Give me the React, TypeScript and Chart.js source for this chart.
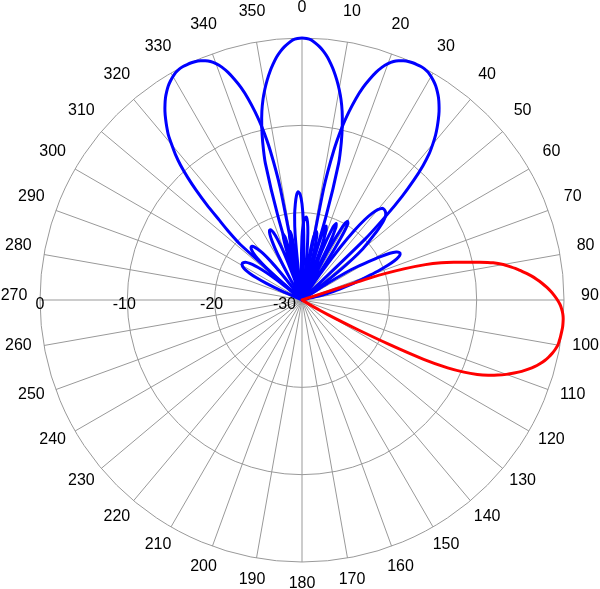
import React, { useEffect, useRef } from "react";
import { Chart, registerables } from "chart.js";

Chart.register(...registerables);

// ---------- DATA ----------
const FLOOR_DB = -30;
const RADIAL_TICKS = [-30, -20, -10, 0];
const ANGLE_TICKS = [0, 10, 20, 30, 40, 50, 60, 70, 80, 90, 100, 110, 120, 130, 140, 150, 160, 170,
  180, 190, 200, 210, 220, 230, 240, 250, 260, 270, 280, 290, 300, 310, 320, 330, 340, 350];
const ANGLES = Array.from({ length: 360 }, (_, i) => String(i)); // 1 degree categories

// Each lobe: [first angle in degrees, dB value for every following degree]
// Red beam (pointing ~95 deg)
const redMain: [number, number[]] = [70, [
  -30, -30, -21.5, -17.8, -15.3, -13.5, -12.1, -10.8, -9.2, -7.7,
  -6.6, -5.8, -5.0, -4.3, -3.6, -3.0, -2.45, -1.95, -1.5, -1.1,
  -0.75, -0.45, -0.25, -0.1, -0.02, 0, 0, -0.05, -0.1, -0.17,
  -0.25, -0.45, -0.7, -1.0, -1.35, -1.8, -2.3, -2.9, -3.55, -4.3,
  -5.1, -6.0, -7.0, -8.2, -9.7, -11.6, -14.5, -18.8, -22.8, -25.6,
  -27.6, -29.2, -30]];

// Blue beam at 0 deg
const blueCSideLeft: [number, number[]] = [-50, [
  -30, -27, -24.5, -23, -22.2, -21.8, -21.6, -21.6, -21.8, -22.3,
  -23, -24.2, -26, -28.5, -30]];
const blueCMain: [number, number[]] = [-17, [
  -30, -20, -13.8, -11.4, -9.5, -7.9, -6.6, -5.5, -4.5, -3.6,
  -2.8, -2.05, -1.45, -0.95, -0.55, -0.2, -0.05, 0, -0.05, -0.2,
  -0.55, -0.95, -1.45, -2.05, -2.8, -3.6, -4.5, -5.5, -6.6, -7.9,
  -9.5, -11.4, -13.8, -20, -30]];
const blueCSideRight: [number, number[]] = [34, [
  -30, -26, -22.5, -20, -18.3, -17.2, -16.5, -16.1, -16, -16.05,
  -16.2, -16.5, -17.1, -18, -19, -20, -21, -22.5, -24.5, -27, -30]];

// Blue beam at ~+27 deg
const blueRSideLeft: [number, number[]] = [-30, [
  -30, -27, -24, -22.5, -21.6, -21.2, -21.2, -21.6, -22.5, -24,
  -27, -30, -26, -23.2, -22.2, -22.6, -25, -30, -25, -22.5,
  -22, -22.8, -25.5, -30]];
const blueRSideInner: [number, number[]] = [-2, [
  -30, -26, -22.8, -21.3, -20.6, -20.5, -21, -22.3, -24.5, -27.5, -30]];
const blueRMain: [number, number[]] = [10, [
  -30, -17, -12.5, -9.8, -7.8, -6.1, -4.7, -3.6, -2.6, -1.8,
  -1.2, -0.75, -0.45, -0.25, -0.1, -0.03, 0, 0, -0.05, -0.2,
  -0.45, -0.75, -1.1, -1.55, -2.05, -2.65, -3.3, -4.05, -4.85, -5.7,
  -6.7, -7.8, -9.3, -11.2, -13.5, -16.5, -20, -30]];
const blueRSideRight: [number, number[]] = [56, [
  -30, -26.5, -24, -22.5, -21.2, -19.8, -18.6, -17.9, -17.6, -17.6,
  -17.9, -18.5, -19.4, -20.5, -21.7, -22.8, -23.8, -24.7, -25.5, -26.3,
  -27.2, -28.3, -30]];

// Blue beam at ~-27 deg
const blueLSideLeft: [number, number[]] = [-67, [
  -30, -27.5, -25.5, -24.2, -23.3, -22.7, -22.3, -22.1, -22, -22,
  -22.1, -22.3, -22.7, -23.3, -24.2, -25.5, -27.5, -30]];
const blueLMain: [number, number[]] = [-49, [
  -30, -20.5, -18.5, -16.8, -14.6, -12.6, -10.8, -9.2, -7.9, -6.8,
  -5.7, -4.85, -4.05, -3.3, -2.65, -2.05, -1.55, -1.1, -0.75, -0.45,
  -0.2, -0.05, 0, 0, -0.03, -0.1, -0.25, -0.45, -0.75, -1.2,
  -1.8, -2.6, -3.6, -4.7, -6.1, -7.8, -9.8, -12.5, -17, -30]];
const blueLSideRight: [number, number[]] = [-8, [
  -30, -27, -22.5, -20.3, -19, -18, -17.6, -17.9, -19, -21,
  -24, -28, -30, -30, -30, -30, -30, -26, -23.3, -22.2,
  -22, -22.5, -24.5, -30, -25, -22, -21.1, -21.5, -23.5, -30,
  -24, -21, -20.4, -20.8, -23, -30, -23.5, -20.3, -19.6, -19.8,
  -21.5, -25, -30]];

function buildSeries(lobes: [number, number[]][]): number[] {
  const out = new Array(360).fill(FLOOR_DB);
  for (const [start, vals] of lobes) {
    vals.forEach((v, i) => {
      out[(((start + i) % 360) + 360) % 360] = v;
    });
  }
  return out;
}

const labelPlugin = {
  id: "polarLabels",
  beforeDatasetsDraw(chart: any) {
    const s = chart.scales.r;
    const ctx = chart.ctx;
    ctx.save();
    ctx.font = '16px "Liberation Sans", Arial, sans-serif';
    ctx.fillStyle = "#000000";
    ctx.textBaseline = "alphabetic";
    RADIAL_TICKS.forEach((v) => {
      const d = s.getDistanceFromCenterForValue(v);
      if (v === FLOOR_DB) {
        ctx.textAlign = "right";
        ctx.fillText(String(v), s.xCenter - 6, s.yCenter + 9);
      } else {
        ctx.textAlign = "center";
        ctx.fillText(String(v), s.xCenter - d - (v === 0 ? 0 : 3), s.yCenter + 9);
      }
    });
    ctx.textAlign = "center";
    ANGLE_TICKS.forEach((a) => {
      const p = s.getPointPosition(a, s.drawingArea + 26);
      ctx.fillText(String(a), p.x, p.y);
    });
    ctx.restore();
  },
};

export default function App() {
  const ref = useRef<HTMLCanvasElement | null>(null);

  useEffect(() => {
    if (!ref.current) return;
    const common = {
      fill: false,
      pointRadius: 0,
      pointHoverRadius: 0,
      borderWidth: 3,
      tension: 0.2,
      borderJoinStyle: "round" as const,
      clip: false as any,
    };
    const chart = new Chart(ref.current, {
      type: "radar",
      data: {
        labels: ANGLES,
        datasets: [
          { ...common, label: "red", data: buildSeries([redMain]), borderColor: "#ff0000" },
          { ...common, label: "blue C", data: buildSeries([blueCSideLeft, blueCMain, blueCSideRight]), borderColor: "#0000ff" },
          { ...common, label: "blue R", data: buildSeries([blueRSideLeft, blueRSideInner, blueRMain, blueRSideRight]), borderColor: "#0000ff" },
          { ...common, label: "blue L", data: buildSeries([blueLSideLeft, blueLMain, blueLSideRight]), borderColor: "#0000ff" },
        ],
      },
      options: {
        responsive: false,
        animation: false,
        devicePixelRatio: 1,
        layout: { padding: { left: 40, right: 36, top: 38, bottom: 27 } },
        plugins: { legend: { display: false }, tooltip: { enabled: false } },
        scales: {
          r: {
            min: FLOOR_DB,
            max: 0,
            ticks: { display: false, stepSize: 10 },
            grid: { circular: true, color: "#999999", lineWidth: 1 },
            angleLines: {
              display: true,
              color: "#999999",
              lineWidth: (c: any) => (c.index % 10 === 0 ? 1 : 0),
            },
            pointLabels: { display: false },
          },
        },
      },
      plugins: [labelPlugin],
    });
    return () => chart.destroy();
  }, []);

  return (
    <div style={{ position: "absolute", left: 0, top: 0, width: 600, height: 589 }}>
      <canvas ref={ref} width={600} height={589} style={{ display: "block", width: 600, height: 589 }} />
    </div>
  );
}
